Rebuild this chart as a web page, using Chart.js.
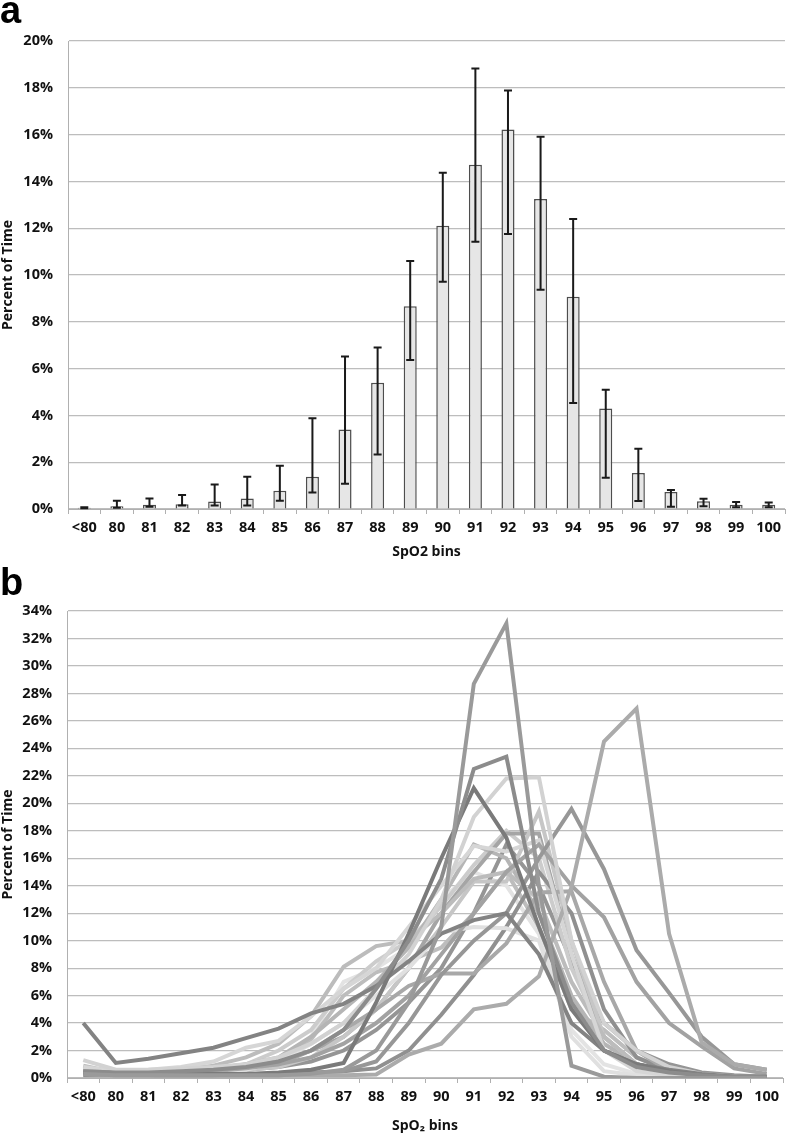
<!DOCTYPE html>
<html><head><meta charset="utf-8">
<script src="https://cdn.jsdelivr.net/npm/chart.js@4.4.1/dist/chart.umd.min.js"></script>
<style>
html,body{margin:0;padding:0;background:#fff;}
#wrap{position:relative;width:787px;height:1136px;overflow:hidden;}
.lbl{position:absolute;font-family:"Liberation Sans",Arial,sans-serif;font-weight:bold;font-size:38px;line-height:1;color:#000;}
#ca{position:absolute;left:0;top:0;}
#cb{position:absolute;left:0;top:560px;}
</style></head>
<body>
<div id="wrap">
<canvas id="ca" width="787" height="570"></canvas>
<canvas id="cb" width="787" height="576"></canvas>
<div class="lbl" style="left:0px;top:-9px;">a</div>
<div class="lbl" style="left:0px;top:563px;">b</div>
</div>
<script>
// ---- data ----
const categories = ['<80','80','81','82','83','84','85','86','87','88','89','90','91','92','93','94','95','96','97','98','99','100'];

// Panel a: mean percent of time per bin, with error bar ends
const meanA    = [0.05,0.12,0.18,0.2,0.32,0.45,0.78,1.38,3.4,5.4,8.66,12.1,14.71,16.22,13.25,9.07,4.29,1.54,0.73,0.33,0.18,0.18];
const errLowA  = [0.03,0.05,0.1,0.15,0.15,0.15,0.35,0.7,1.08,2.33,6.37,9.71,11.42,11.75,9.37,4.53,1.34,0.34,0.1,0.12,0.08,0.08];
const errHighA = [0.07,0.35,0.45,0.6,1.05,1.38,1.85,3.88,6.52,6.9,10.6,14.37,18.82,17.88,15.91,12.39,5.1,2.58,0.81,0.44,0.3,0.28];

// Panel b: individual subjects
const s01 = [0.3,0.2,0.2,0.2,0.2,0.2,0.2,0.3,0.6,2,5.5,11,28.7,33.1,14,0.9,0.1,0,0,0,0,0];
const s02 = [0.5,0.4,0.4,0.5,0.6,0.8,1.2,2,3.5,6.5,10,14.5,22.5,23.4,12,5.5,2,0.8,0.4,0.2,0.1,0.1];
const s03 = [0.4,0.3,0.3,0.3,0.3,0.3,0.4,0.6,1.1,5.5,10.5,16,21.1,17.5,11,5,2,1,0.5,0.2,0.1,0.1];
const s04 = [4,1.1,1.4,1.8,2.2,2.9,3.6,4.7,5.4,6.7,8.5,10.5,11.5,12,9,4,2,1,0.6,0.3,0.1,0.1];
const s05 = [1.3,0.6,0.6,0.7,0.8,1,1.5,2.5,4,6.5,9,13,19,21.8,21.9,10,4,2,0.8,0.3,0.1,0.1];
const s06 = [0.3,0.2,0.2,0.2,0.2,0.2,0.2,0.2,0.2,0.25,1.7,2.5,5,5.4,7.4,13.9,24.5,26.9,10.5,2.6,1,0.6];
const s07 = [0.3,0.2,0.2,0.2,0.2,0.2,0.2,0.3,0.5,1.2,4,7.5,10,12,16,19.6,15.2,9.3,6.2,3,1,0.6];
const s08 = [0.5,0.4,0.4,0.5,0.6,0.8,1,1.5,2.5,4,6,9,12,15,17,14,11.7,7,4,2.3,0.7,0.3];
const s09 = [0.8,0.5,0.6,0.8,1.2,2.2,2.7,4.5,6.5,8,11,14,16.9,16.5,17.3,9,2,0.5,0.2,0.1,0,0];
const s10 = [0.6,0.4,0.5,0.6,0.9,1.5,2.5,4.5,8.1,9.6,10,12,14.5,15,13,7,3,1,0.5,0.2,0.1,0];
const s11 = [0.3,0.3,0.3,0.4,0.5,0.7,1,2,3.5,5,6.7,7.6,7.6,9.8,13.5,13.6,7,2,0.5,0.2,0.1,0];
const s12 = [0.5,0.3,0.3,0.4,0.5,0.6,1.2,2.5,4,6,8,10.6,11,10.9,10,3,0.5,0.2,0.1,0,0,0];
const s13 = [0.4,0.3,0.3,0.4,0.5,0.6,0.8,1.5,3,5,8,11,14.3,14.3,19.4,10,3,1,0.4,0.2,0.1,0];
const s14 = [0.5,0.4,0.4,0.5,0.6,0.8,1.2,2,3,5,8,12,15,17.8,17.8,9,3,1,0.4,0.2,0.1,0];
const s15 = [0.7,0.4,0.4,0.5,0.7,1,1.5,3,5,7,9.5,13,17,16,12,6,2.5,1,0.5,0.2,0.1,0];
const s16 = [0.2,0.2,0.2,0.2,0.2,0.3,0.3,0.4,0.5,0.7,2,4.6,7.5,11,15,12,5,1.5,0.5,0.2,0.1,0];
const s17 = [0.9,0.4,0.4,0.5,0.6,0.9,1.4,2.8,6,7.7,8.5,9.5,12,15,11,5,3.5,1.5,0.6,0.2,0.1,0];
const s18 = [0.2,0.2,0.2,0.3,0.5,1,2,3.5,6.5,8.5,10,12.5,15.5,18,16,8,3,1,0.3,0.1,0,0];
const s19 = [0.4,0.3,0.3,0.4,0.5,0.6,0.8,1.2,2,3.5,5.5,8,12,17,14,8.5,4,2,1,0.4,0.2,0.1];
const s20 = [0.3,0.2,0.2,0.3,0.4,0.5,1,3,7,8,9.5,13,15,14,10.5,3.5,1,0.3,0.1,0,0,0];

const seriesB = [s01,s02,s03,s04,s05,s06,s07,s08,s09,s10,s11,s12,s13,s14,s15,s16,s17,s18,s19,s20];
const colorsB = ['#9a9a9a','#8c8c8c','#7a7a7a','#838383','#d2d2d2','#ababab','#979797','#a2a2a2','#d6d6d6','#bcbcbc',
                 '#a8a8a8','#e0e0e0','#c6c6c6','#a5a5a5','#b5b5b5','#909090','#bdbdbd','#cccccc','#959595','#e3e3e3'];

const yTicksA = {min:0, max:20, step:2};
const yTicksB = {min:0, max:34, step:2};

// ---- styling ----
const FF = '"Open Sans", Lato, "Liberation Sans", sans-serif';
const tickFont = {family:FF, size:14.5, weight:'bold'};
const titleFont = {family:FF, size:14, weight:'bold'};
const gridCol = '#bdbdbd';
const axisCol = '#b0b0b0';

const errorBars = {
  id:'errorBars',
  afterDatasetsDraw(chart){
    const ctx = chart.ctx, meta = chart.getDatasetMeta(0), y = chart.scales.y;
    ctx.save();
    ctx.strokeStyle = '#1a1a1a';
    ctx.lineWidth = 2;
    meta.data.forEach((bar,i)=>{
      const x = bar.x;
      const yl = y.getPixelForValue(errLowA[i]);
      const yh = y.getPixelForValue(errHighA[i]);
      ctx.beginPath();
      ctx.moveTo(x,yl); ctx.lineTo(x,yh);
      ctx.moveTo(x-4,yl); ctx.lineTo(x+4,yl);
      ctx.moveTo(x-4,yh); ctx.lineTo(x+4,yh);
      ctx.stroke();
    });
    ctx.restore();
  }
};

function xScale(title, h, pb){
  return {
    offset:true,
    grid:{offset:true, drawOnChartArea:false, drawTicks:true, tickLength:5, color:axisCol},
    border:{color:axisCol, width:1},
    ticks:{font:tickFont, color:'#111', padding:5, maxRotation:0, autoSkip:false},
    title:{display:true, text:title, font:titleFont, color:'#111', padding:{top:0,bottom:pb}},
    afterFit(s){ s.height = h; }
  };
}
function yScale(t, w){
  return {
    min:t.min, max:t.max,
    ticks:{stepSize:t.step, callback:v=>v+'%', font:tickFont, color:'#111', padding:15},
    grid:{drawTicks:false, color:gridCol, lineWidth:1.2},
    border:{color:axisCol, width:1},
    title:{display:true, text:'Percent of Time', font:titleFont, color:'#111', padding:{top:0,bottom:0}},
    afterFit(s){ s.width = w; }
  };
}

new Chart(document.getElementById('ca'), {
  type:'bar',
  data:{labels:categories, datasets:[{data:meanA, backgroundColor:'#e6e6e6', borderColor:'#4d4d4d', borderWidth:1.5, barPercentage:0.4, categoryPercentage:1}]},
  options:{
    responsive:false, animation:false, devicePixelRatio:1,
    layout:{padding:{top:41,right:2,left:0,bottom:0}},
    plugins:{legend:{display:false}, tooltip:{enabled:false}},
    scales:{x:xScale('SpO2 bins',61,10), y:yScale(yTicksA,68)}
  },
  plugins:[errorBars]
});

new Chart(document.getElementById('cb'), {
  type:'line',
  data:{labels:categories, datasets:seriesB.map((d,i)=>({data:d, borderColor:colorsB[i], backgroundColor:colorsB[i], borderWidth:4, pointRadius:0, tension:0, fill:false}))},
  options:{
    responsive:false, animation:false, devicePixelRatio:1,
    layout:{padding:{top:51,right:4,left:0,bottom:0}},
    plugins:{legend:{display:false}, tooltip:{enabled:false}},
    scales:{x:xScale('SpO\u2082 bins',58,2), y:yScale(yTicksB,67)}
  }
});
</script>
</body></html>
